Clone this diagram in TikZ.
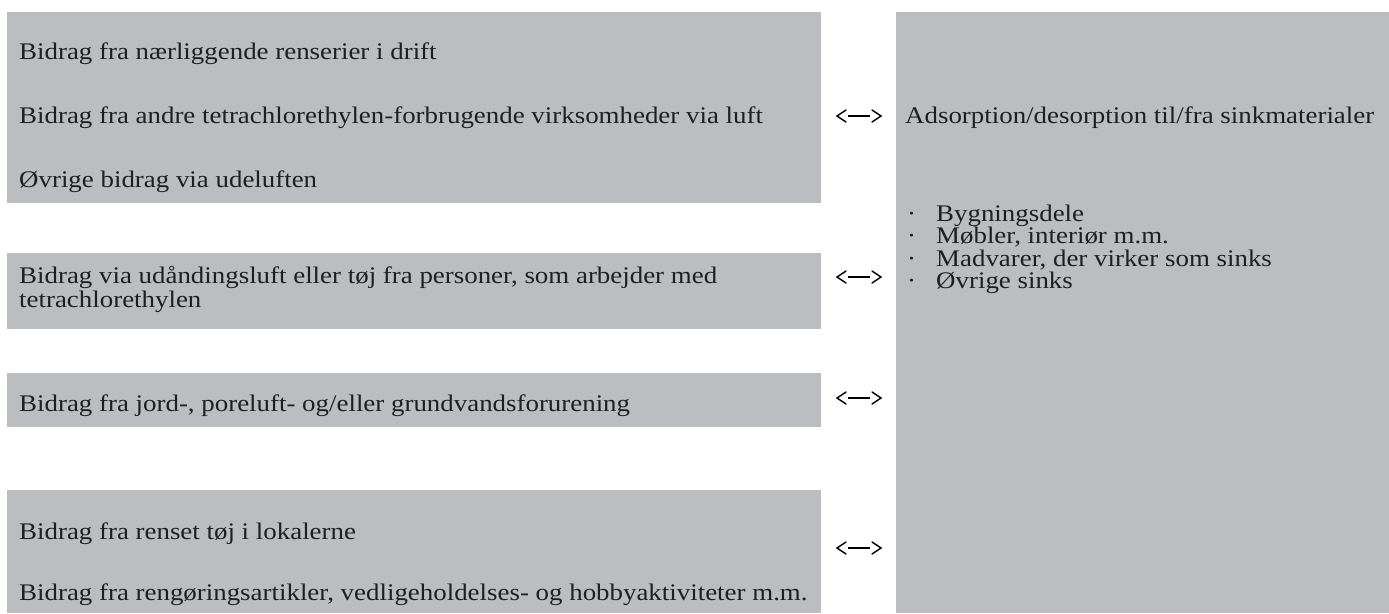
\documentclass[tikz,border=0pt]{standalone}
\usepackage{fontspec}
\setmainfont[FakeStretch=1.13]{Liberation Serif}
\begin{document}
\begin{tikzpicture}[x=1pt,y=-1pt,
  box/.style={fill=boxgray,draw=none,inner sep=0pt,anchor=north west},
  txt/.style={anchor=base west,inner sep=0pt,font=\fontsize{23.8}{26}\selectfont,text=black!88},
  chev/.style={line width=1.4pt,line cap=round,line join=miter},
  bar/.style={line width=2.4pt}]
\definecolor{boxgray}{HTML}{BCBDC1}
\useasboundingbox (0,0) rectangle (1389,613);
% boxes
\node[box,minimum width=814pt,minimum height=191pt] (b1) at (7,12) {};
\node[box,minimum width=814pt,minimum height=76pt] (b2) at (7,253) {};
\node[box,minimum width=814pt,minimum height=54pt] (b3) at (7,373) {};
\node[box,minimum width=814pt,minimum height=123pt] (b4) at (7,490) {};
\node[box,minimum width=493pt,minimum height=601pt] (r) at (896,12) {};
% texts
\node[txt] (t1) at (19,59) {Bidrag fra nærliggende renserier i drift};
\node[txt] (t2) at (19,123) {Bidrag fra andre tetrachlorethylen-forbrugende virksomheder via luft};
\node[txt] (t3) at (19,187) {Øvrige bidrag via udeluften};
\node[txt] (t4) at (19,283) {Bidrag via udåndingsluft eller tøj fra personer, som arbejder med};
\node[txt] (t5) at (19,307) {tetrachlorethylen};
\node[txt] (t6) at (19,411) {Bidrag fra jord-, poreluft- og/eller grundvandsforurening};
\node[txt] (t7) at (19,539) {Bidrag fra renset tøj i lokalerne};
\node[txt] (t8) at (19,600) {Bidrag fra rengøringsartikler, vedligeholdelses- og hobbyaktiviteter m.m.};
\node[txt] (r0) at (905,123) {Adsorption/desorption til/fra sinkmaterialer};
\foreach \y/\t [count=\i] in {221/Bygningsdele,243/{Møbler, interiør m.m.},266/{Madvarer, der virker som sinks},288/Øvrige sinks}{
  \node[txt] (d\i) at (907,\y) {·};
  \node[txt] (s\i) at (936,\y) {\t};
}
% arrows
\foreach \n/\y in {1/116,2/277,3/398,4/548}{
  \coordinate (L\n) at (837,\y);
  \coordinate (R\n) at (881,\y);
  \draw[chev] ([shift={(9,-6)}]L\n) -- (L\n) -- ([shift={(9,6)}]L\n);
  \draw[chev] ([shift={(-9,-6)}]R\n) -- (R\n) -- ([shift={(-9,6)}]R\n);
  \draw[bar] ([xshift=11]L\n) -- ([xshift=-11]R\n);
}
\end{tikzpicture}
\end{document}
